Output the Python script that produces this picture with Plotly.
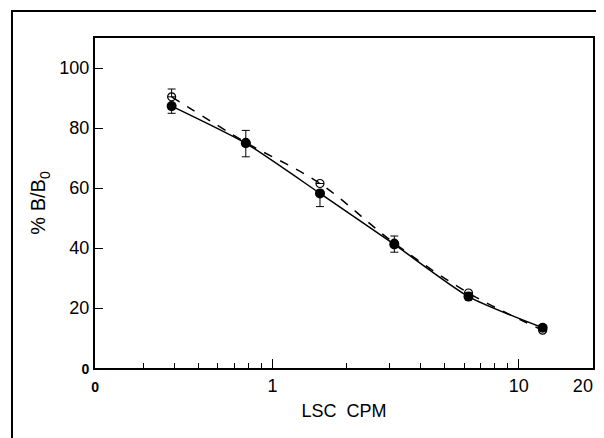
import plotly.graph_objects as go

# Data
dose = [0.39, 0.78, 1.56, 3.125, 6.25, 12.5]
filled_y = [87.3, 74.9, 58.2, 41.2, 23.8, 13.4]
filled_err_minus = [2.4, 4.5, 4.4, 2.6, 0.0, 0.0]
open_y = [90.4, 75.2, 61.5, 41.6, 25.0, 12.6]
open_err_plus = [2.6, 4.0, 0.0, 2.4, 0.0, 0.0]

x_tick_vals = [0.191, 1, 10, 19.99]
x_tick_text = ["<b><span style='font-size:14px'>0</span></b>", "1", "10",
               "20<span style='color:rgba(0,0,0,0)'>00</span>"]
x_minor_vals = [0.3, 0.4, 0.5, 0.6, 0.7, 0.8, 0.9, 2, 3, 4, 5, 6, 7, 8, 9]
y_tick_vals = [0, 20, 40, 60, 80, 100]
y_tick_text = ["<b><span style='font-size:14px'>0</span></b>", "20", "40", "60", "80", "100"]

fig = go.Figure()

fig.add_trace(go.Scatter(
    x=dose, y=open_y, mode="lines+markers",
    line=dict(color="black", width=1.5, dash="dash", shape="spline", smoothing=1.0),
    marker=dict(symbol="circle-open", size=8, color="black", line=dict(width=1.2)),
    error_y=dict(type="data", symmetric=False, array=open_err_plus,
                 arrayminus=[0] * len(dose), color="black", thickness=1, width=4),
    showlegend=False,
))
fig.add_trace(go.Scatter(
    x=dose, y=filled_y, mode="lines+markers",
    line=dict(color="black", width=1.5, shape="spline", smoothing=0.6),
    marker=dict(symbol="circle", size=10, color="black"),
    error_y=dict(type="data", symmetric=False, array=[0] * len(dose),
                 arrayminus=filled_err_minus, color="black", thickness=1, width=4),
    showlegend=False,
))

font_family = "Liberation Sans, Arial, sans-serif"

fig.update_layout(
    width=596, height=430,
    margin=dict(l=87, r=11, t=30, b=70),
    paper_bgcolor="white", plot_bgcolor="white",
    font=dict(family=font_family, size=18, color="black"),
    xaxis=dict(
        type="log", range=[-0.72, 1.3012], automargin=False,
        tickmode="array", tickvals=x_tick_vals, ticktext=x_tick_text,
        ticklabeloverflow="allow",
        ticks="inside", ticklen=9, tickwidth=1.2, tickcolor="black",
        minor=dict(tickmode="array", tickvals=x_minor_vals, ticks="inside",
                   ticklen=5, tickwidth=1.2, tickcolor="black", showgrid=False),
        showline=True, linecolor="black", linewidth=2, mirror=True,
        showgrid=False, zeroline=False,
        title=dict(text="LSC\u00a0\u00a0CPM", font=dict(size=18, color="black"), standoff=10),
        tickfont=dict(size=18, color="black"),
    ),
    yaxis=dict(
        range=[0, 110], automargin=False,
        tickmode="array", tickvals=y_tick_vals, ticktext=y_tick_text,
        ticklabeloverflow="allow",
        ticks="inside", ticklen=8, tickwidth=1.2, tickcolor="black",
        showline=True, linecolor="black", linewidth=2, mirror=True,
        showgrid=False, zeroline=False,
        title=dict(text="% B/B<sub>0</sub>", font=dict(size=20, color="black"), standoff=8),
        tickfont=dict(size=18, color="black"),
    ),
    shapes=[
        dict(type="path", xref="paper", yref="paper",
             path="M -0.1667,-0.5 L -0.1667,1.0818 L 1.2,1.0818",
             line=dict(color="black", width=2)),
    ],
)

fig.write_html("out.html")
